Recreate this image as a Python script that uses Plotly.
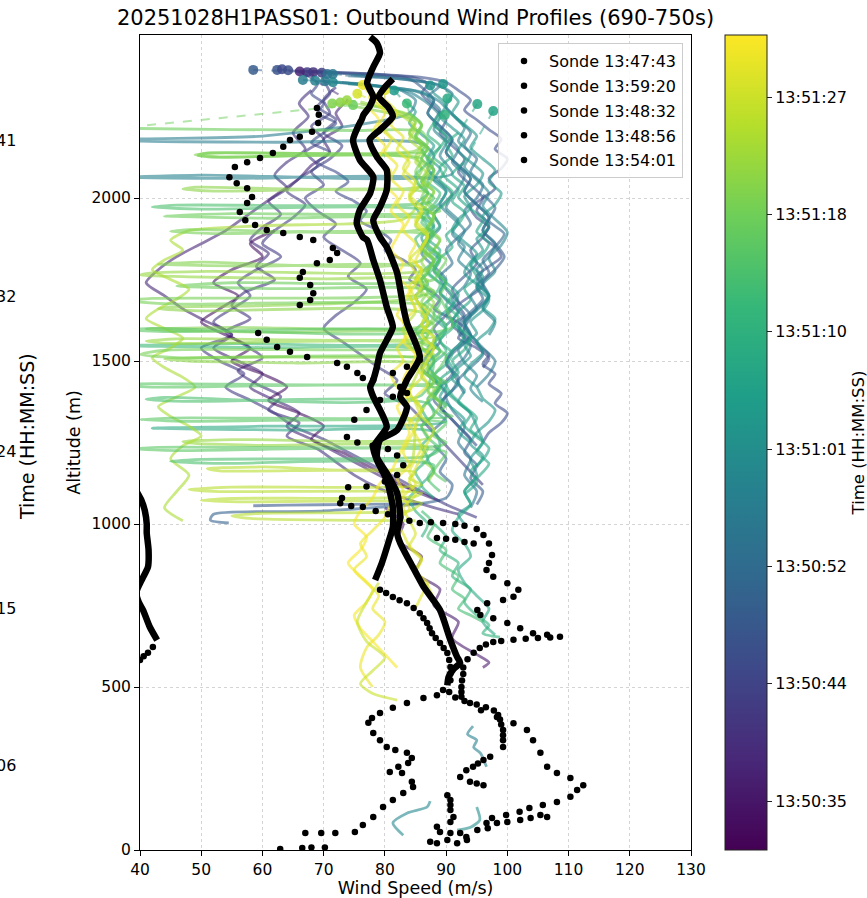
import plotly.graph_objects as go
from plotly.colors import sequential, hex_to_rgb

# ---------------------------------------------------------------------------
# Colour scale: seconds after 13:50:00
# ---------------------------------------------------------------------------
T_MIN, T_MAX = 31.5, 91.7
CBAR_TICK_VALUES = [35.1, 43.77, 52.43, 61.1, 69.77, 78.43, 87.1]
CBAR_TICK_LABELS = ["13:50:35", "13:50:44", "13:50:52", "13:51:01",
                    "13:51:10", "13:51:18", "13:51:27"]

X_TICKS = [40, 50, 60, 70, 80, 90, 100, 110, 120, 130]
Y_TICKS = [0, 500, 1000, 1500, 2000]

# neighbouring colourbar labels (only their tails fall inside the page)
NEIGHBOUR_TICK_TAILS = ["41", "32", "24", "15", "06"]

# ---------------------------------------------------------------------------
# Flight-level wind profiles (time, speed m/s, altitude m, launch marker)
# ---------------------------------------------------------------------------
PROFILE_TIMES = [40, 42, 38, 43, 36, 34,
                 49, 47, 45, 46, 51, 50, 48,
                 53, 55, 57, 58, 56, 59, 62, 63, 64, 60, 58, 61,
                 66, 67, 68, 70, 72, 70, 73,
                 78, 80, 81, 82, 84, 76, 74, 85, 79,
                 90, 89, 91, 88, 87]

START_SPEEDS = [68.3, 67.3, 66.1, 69.7, None, None,
                58.5, 62.4, 63.2, 64.2, None, None, None,
                70.6, 71.5, 66.6, 68.6, 70.2, 71.5, 87.4, 89.5, 81.5, None, None, None,
                97.7, 95.1, 90.2, 89.8, 83.6, None, None,
                74.8, 71.4, 72.7, 73.8, None, None, None, None, None,
                76.4, 80.0, 78.1, 75.5, None]
START_ALTS = [2386, 2386, 2388, 2384, None, None,
              2393, 2393, 2395, 2392, None, None, None,
              2380, 2380, 2362, 2360, 2358, 2355, 2345, 2350, 2330, None, None, None,
              2267, 2288, 2305, 2255, 2290, None, None,
              2285, 2290, 2293, 2300, None, None, None, None, None,
              2347, 2331, 2310, 2320, None]

PROFILE_SPEEDS = [
    [68, 66, 67.5, 65, 67, 64, 62, 64, 61, 63, 60, 58, 61, 59, 62, 57, 55, 58, 54, 57,
     60, 56, 59, 63, 61, 66, 64, 69, 72, 75, 79, 83, 88, 92],
    [72, 70, 71, 68, 70, 67, 69, 66, 64, 67, 65, 62, 60, 63, 59, 56, 58, 55, 52, 55,
     50, 53, 57, 54, 58, 62, 65, 70, 74, 78, 82, 86, 90, 95],
    [74, 72, 73, 70, 71, 68, 66, 63, 60, 57, 54, 50, 46, 43, 41, 44, 47, 51, 55, 52,
     56, 60, 58, 62, 66, 64, 68, 72, 76, 80, 85, 89],
    [70, 71, 69, 72, 70, 73, 71, 68, 70, 67, 69, 72, 70, 73, 76, 74, 77, 75, 72, 70,
     73, 76, 79, 82, 80, 84, 87, 90, 93, 96],
    [80, 83, 82, 86, 85, 89, 88, 92, 91, 95, 97, 96],
    [62, 58, 60, 55, 52, 56, 53, 50, 54, 58, 55, 60, 64, 61, 66, 70, 68, 73, 77, 81, 85],
    [65.5, 70, 75, 80, 84, 86, 88, 87, 89, 91, 90, 92, 94, 93, 95, 97, 96, 98, 99.5, 98,
     96, 97, 95, 93, 94, 92, 90, 91, 89, 88, 90, 92, 94, 93, 95, 94, 96, 95],
    [66, 71, 76, 81, 85, 87, 86, 88, 90, 89, 91, 93, 92, 94, 96, 95, 97, 96, 94, 95,
     93, 91, 92, 90, 88, 89, 87, 86, 88, 90, 89, 91, 93, 95],
    [67, 69, 68, 70, 69, 72, 70, 68, 71, 69, 72, 74, 72, 75, 77, 76, 79, 81, 80, 83,
     85, 84, 87, 89, 88, 91, 93, 92, 95, 97, 96],
    [68, 74, 80, 86, 90, 92, 94, 93, 95, 97, 99, 98, 100, 99, 97, 98, 96, 94, 95, 97,
     96, 98, 99, 97, 95, 96, 94, 92, 93, 91, 93, 95, 97, 96, 98, 97, 99, 98, 100, 99,
     97, 96],
    [96, 98, 97, 99.5, 98, 96, 97, 95, 96, 94, 92, 93, 91, 90, 92, 91, 89, 90, 88],
    [88, 90, 89, 91, 90, 70, 52, 51.5, 54.5],
    [86, 75, 64, 58.5],
    [74, 79, 84, 88, 91, 90, 92, 94, 93, 95, 94, 96, 95, 93, 94, 92, 90, 91, 89, 90,
     92, 94, 93, 95, 96, 94, 92, 93],
    [75, 80, 85, 89, 87, 89, 88, 90, 92, 91, 93, 92, 90, 88, 89, 87, 86, 88, 90, 89,
     91, 93, 92, 94, 93, 91, 92, 90, 91, 93, 92, 94, 93, 95, 94],
    [70, 74, 78, 82, 85, 84, 60, 40, 38, 62, 86, 88, 87, 89, 91, 90, 92, 91, 93, 92,
     94, 93, 91, 92, 90],
    [72, 76, 80, 84, 87, 89, 88, 90, 89, 91, 50, 37, 55, 88, 90, 89, 91, 93, 92, 94,
     96, 95, 97, 96, 98, 97],
    [73, 77, 81, 85, 88, 87, 89, 91, 90, 92, 94, 93, 95, 97, 96, 98, 97, 95, 96, 94,
     95, 93, 94, 96, 98, 97, 95],
    [74, 78, 82, 86, 89, 91, 93, 92, 94, 93, 95, 97, 96, 98, 100, 99, 97, 98, 96, 97,
     95, 93, 94, 92, 93, 95, 94, 96],
    [88, 90, 89, 91, 93, 92, 94, 96, 95, 93, 94, 92, 91, 93, 95, 94, 96, 95, 97, 96,
     94, 95, 93, 94, 92, 91, 93, 92, 94, 95, 96, 94, 95, 93, 94, 92, 93],
    [90, 92, 91, 93, 95, 94, 96, 98, 97, 99, 98, 96, 97, 95, 96, 94, 93, 95, 97, 96,
     98, 97, 95, 96, 94, 93, 95, 96, 98, 97, 95, 94, 96, 95],
    [83, 85, 84, 86, 88, 87, 89, 88, 90, 89, 87, 88, 86, 87, 89, 88, 90, 92, 91, 89,
     90, 88, 89, 87, 88, 90, 89, 91, 93, 92, 94],
    [83, 81.3, 83.6, 86.9, 87.4],
    [94.4, 93.5, 95, 94.5, 95.6, 96.6],
    [91.8, 94, 95.5, 95],
    [92.8, 91, 93, 92, 94, 96, 95, 97, 96, 94, 95, 93, 94, 92, 91, 93, 92, 90, 91, 89,
     90, 92, 94, 93, 95, 97, 96, 94, 95, 93],
    [92, 90, 91, 89, 90, 92, 91, 93, 92, 90, 91, 89, 88, 90, 89, 91, 90, 92, 94, 93,
     91, 92, 90, 91, 93, 95, 94, 96, 95, 97, 95, 93, 94, 92, 91, 93, 94, 92, 93, 95,
     97, 96, 98],
    [89, 88, 90, 89, 87, 88, 86, 87, 85, 86, 88, 87, 89, 88, 86, 87, 85, 86, 88, 90,
     89, 91, 90, 88, 89, 87, 88, 90, 60, 42, 65, 88, 89, 87, 88, 86, 88],
    [88, 87, 89, 88, 90, 89, 91, 90, 88, 89, 87, 86, 88, 87, 89, 91, 90, 92, 91, 89,
     90, 88, 87, 89, 88, 86, 87, 88, 86, 87, 85, 86, 84, 85, 87, 86],
    [84, 86, 85, 87, 86, 88, 87, 89, 88, 86, 87, 85, 86, 88, 87, 89, 88, 86, 87, 85,
     86, 55, 38, 60, 86, 88, 87, 89, 88, 90],
    [88, 90, 89, 92, 91, 94, 93, 95, 97, 96, 98.8],
    [86, 88, 87, 90, 89, 92, 91, 93, 92, 94, 96],
    [36, 55, 75, 86, 87, 86, 88, 87, 86, 88, 87, 89, 55, 44, 60, 88, 87, 89, 88, 90,
     89, 88, 55, 46, 62, 88, 87, 89, 88, 86, 87, 89, 88],
    [74, 78, 82, 85, 84, 86, 85, 52, 49, 53, 85, 86, 85, 87, 86, 88, 87, 86, 50, 43,
     58, 86, 85, 87, 86, 88, 87, 55, 41, 46, 63, 87, 86, 88, 87, 89, 88],
    [76, 80, 84, 86, 85, 87, 86, 88, 87, 49, 47, 52, 87, 86, 88, 87, 89, 88, 86, 87,
     85, 86, 60, 45, 43, 50, 86, 87, 85, 86, 88, 55, 44, 48, 65, 87, 86, 88, 87, 86],
    [76, 79, 83, 85, 84, 86, 85, 87, 86, 88, 87, 86, 85, 87, 86, 88, 87, 52, 42, 40,
     48, 70, 87, 86, 88, 87, 86, 88, 46, 41, 45, 88, 87, 86, 88, 87, 89, 88, 86, 87,
     56, 47, 49, 60, 87, 86, 88, 87],
    [80, 83, 85, 84, 86, 85, 87, 86, 84, 85, 83, 60, 48, 45, 47, 44, 42, 45, 48, 46,
     43, 41, 44, 47, 45, 42, 44, 47, 49, 46, 43, 45, 48, 50, 47, 45, 48, 46, 44, 47],
    [88, 87, 89, 88, 90, 89, 91, 42, 38, 44, 89, 88, 90, 89, 88, 90, 40, 36, 42, 89,
     88, 90, 89, 91, 45, 40, 47, 90, 89, 88, 90, 89, 43, 39, 46, 90, 89, 88, 90],
    [86, 87, 85, 86, 88, 87, 46, 42, 50, 87, 86, 88, 87, 89, 88, 86, 87, 89, 88, 90,
     89, 87, 88, 86, 44, 41, 47, 87, 88, 86, 87, 89, 88, 86, 50, 45, 52, 88, 87, 89],
    [84, 85, 83, 84, 86, 85, 84, 86, 85, 84, 60, 51, 53, 85, 84, 86, 55, 48, 52, 86,
     85, 54, 50, 56, 86, 85, 84, 60, 55, 58, 85],
    [84, 86, 85, 87, 51, 49.5, 52, 86, 85, 87, 86, 88, 87, 48, 45, 52, 87, 86, 88, 87,
     86, 88, 42, 38, 45, 87, 86, 88, 87, 86, 88, 44, 40, 46, 87, 86, 88, 87, 89],
    [78, 80, 79, 81, 80, 82, 81, 83, 82, 84, 83, 85, 84, 86, 85, 84, 85, 83, 84, 82,
     83, 81, 82, 84, 83, 85, 84, 83, 84, 82, 83, 81, 80, 78, 76, 77, 75, 77, 79, 78,
     80, 79, 77, 76, 78],
    [80, 82, 81, 83, 82, 84, 83, 85, 84, 86, 85, 87, 86, 85, 86, 84, 85, 86, 87, 86,
     88, 87, 86, 87, 85, 86, 84, 85, 86, 85, 84, 85, 83, 84, 82, 83, 84, 86, 85, 87,
     86, 85],
    [77, 79, 78, 80, 79, 81, 80, 82, 81, 83, 82, 81, 83, 82, 84, 83, 82, 84, 83, 85,
     84, 83, 84, 82, 83, 84, 83, 82, 81, 79, 78, 76, 75, 77, 76, 74, 76, 78, 77, 75,
     76, 78, 80, 82],
    [79, 81, 80, 82, 84, 83, 85, 84, 86, 85, 87, 86, 84, 85, 86, 85, 87, 86, 88, 87,
     85, 86, 84, 85, 86, 88, 87, 86, 85, 84, 85, 83, 84, 85, 84, 86, 85, 87, 88],
    [79, 77, 75.5, 77, 80, 78, 76, 78, 82],
]

PROFILE_ALTS = [
    [2330, 2290, 2250, 2200, 2150, 2110, 2070, 2030, 1990, 1950, 1910, 1870, 1830, 1790,
     1750, 1710, 1670, 1630, 1590, 1550, 1510, 1470, 1430, 1390, 1350, 1310, 1270, 1230,
     1190, 1150, 1110, 1080, 1050, 1030],
    [2340, 2300, 2260, 2220, 2180, 2140, 2100, 2060, 2020, 1980, 1940, 1900, 1860, 1820,
     1780, 1740, 1700, 1660, 1620, 1580, 1540, 1500, 1460, 1420, 1380, 1340, 1300, 1260,
     1220, 1180, 1140, 1100, 1060, 1020],
    [2300, 2260, 2220, 2180, 2140, 2100, 2060, 2020, 1980, 1940, 1900, 1860, 1820, 1780,
     1740, 1700, 1660, 1620, 1580, 1540, 1500, 1460, 1420, 1380, 1340, 1300, 1260, 1220,
     1180, 1140, 1100, 1070],
    [2360, 2320, 2280, 2240, 2200, 2160, 2120, 2080, 2040, 2000, 1960, 1920, 1880, 1840,
     1800, 1760, 1720, 1680, 1640, 1600, 1560, 1520, 1480, 1440, 1400, 1360, 1300, 1240,
     1180, 1120],
    [1050, 1000, 950, 900, 850, 800, 750, 700, 650, 600, 575, 560],
    [1900, 1860, 1820, 1780, 1740, 1700, 1660, 1620, 1580, 1540, 1500, 1460, 1420, 1380,
     1340, 1300, 1260, 1220, 1180, 1140, 1100],
    [2388, 2385, 2380, 2375, 2365, 2340, 2300, 2260, 2220, 2180, 2140, 2100, 2060, 2020,
     1980, 1940, 1900, 1860, 1820, 1780, 1740, 1700, 1660, 1620, 1580, 1540, 1500, 1460,
     1420, 1380, 1340, 1300, 1260, 1220, 1180, 1140, 1100, 1060],
    [2390, 2386, 2382, 2376, 2368, 2350, 2320, 2280, 2240, 2200, 2160, 2120, 2080, 2040,
     2000, 1960, 1920, 1880, 1840, 1800, 1760, 1720, 1680, 1640, 1600, 1560, 1520, 1480,
     1440, 1400, 1360, 1320, 1280, 1240],
    [2380, 2350, 2320, 2290, 2260, 2230, 2200, 2170, 2140, 2110, 2080, 2050, 2020, 1990,
     1960, 1930, 1900, 1870, 1840, 1810, 1780, 1750, 1720, 1690, 1660, 1630, 1600, 1570,
     1540, 1510, 1480],
    [2388, 2384, 2378, 2370, 2355, 2330, 2300, 2270, 2240, 2210, 2180, 2150, 2120, 2090,
     2060, 2030, 2000, 1970, 1940, 1910, 1880, 1850, 1820, 1790, 1760, 1730, 1700, 1670,
     1640, 1610, 1580, 1550, 1520, 1490, 1460, 1430, 1400, 1370, 1340, 1310, 1280, 1250],
    [2010, 1970, 1930, 1890, 1850, 1810, 1770, 1730, 1690, 1650, 1610, 1570, 1530, 1490,
     1450, 1410, 1370, 1330, 1290],
    [1240, 1200, 1160, 1120, 1080, 1040, 1030, 1012, 1003],
    [1062, 1060, 1058, 1056],
    [2375, 2370, 2362, 2350, 2320, 2280, 2240, 2200, 2160, 2120, 2080, 2040, 2000, 1960,
     1920, 1880, 1840, 1800, 1760, 1720, 1680, 1640, 1600, 1560, 1520, 1480, 1440, 1400],
    [2376, 2370, 2360, 2345, 2310, 2270, 2230, 2190, 2150, 2110, 2070, 2030, 1990, 1950,
     1910, 1870, 1830, 1790, 1750, 1710, 1670, 1630, 1590, 1550, 1510, 1470, 1430, 1390,
     1350, 1300, 1250, 1200, 1150, 1100, 1050],
    [2358, 2352, 2345, 2335, 2300, 2260, 2190, 2181, 2176, 2171, 2167, 2130, 2090, 2050,
     2010, 1970, 1930, 1890, 1850, 1810, 1770, 1730, 1690, 1650, 1610],
    [2356, 2350, 2340, 2325, 2290, 2250, 2210, 2170, 2130, 2075, 2070, 2064, 2060, 2056,
     2020, 1980, 1940, 1900, 1860, 1820, 1780, 1740, 1700, 1660, 1620, 1580],
    [2354, 2348, 2340, 2328, 2300, 2260, 2220, 2180, 2140, 2100, 2060, 2020, 1980, 1940,
     1900, 1860, 1820, 1780, 1740, 1700, 1660, 1620, 1580, 1540, 1500, 1460, 1420],
    [2350, 2344, 2336, 2325, 2295, 2255, 2215, 2175, 2135, 2095, 2055, 2015, 1975, 1935,
     1895, 1855, 1815, 1775, 1735, 1695, 1655, 1615, 1575, 1535, 1495, 1455, 1415, 1375],
    [2320, 2285, 2250, 2215, 2180, 2145, 2110, 2075, 2040, 2005, 1970, 1935, 1900, 1865,
     1830, 1795, 1760, 1725, 1690, 1655, 1620, 1585, 1550, 1515, 1480, 1445, 1410, 1375,
     1340, 1300, 1250, 1200, 1150, 1100, 1060, 1030, 1000],
    [2330, 2295, 2260, 2225, 2190, 2155, 2120, 2085, 2050, 2015, 1980, 1945, 1910, 1875,
     1840, 1805, 1770, 1735, 1700, 1665, 1630, 1595, 1560, 1525, 1490, 1455, 1420, 1385,
     1350, 1315, 1280, 1245, 1210, 1175],
    [2300, 2265, 2230, 2195, 2160, 2125, 2090, 2055, 2020, 1985, 1950, 1915, 1880, 1845,
     1810, 1775, 1740, 1705, 1670, 1635, 1600, 1565, 1530, 1495, 1460, 1425, 1390, 1355,
     1320, 1285, 1250],
    [45, 83, 113, 132, 150],
    [380, 355, 337, 315, 297, 255],
    [61, 70, 92, 132],
    [2107, 2072, 2037, 2002, 1967, 1932, 1897, 1862, 1827, 1792, 1757, 1722, 1687, 1652,
     1617, 1582, 1547, 1512, 1477, 1442, 1407, 1372, 1337, 1302, 1267, 1232, 1197, 1162,
     1127, 1092],
    [2200, 2165, 2130, 2095, 2060, 2025, 1990, 1955, 1920, 1885, 1850, 1815, 1780, 1745,
     1710, 1675, 1640, 1605, 1570, 1535, 1500, 1465, 1430, 1395, 1360, 1325, 1290, 1255,
     1220, 1185, 1140, 1100, 1060, 1020, 980, 940, 900, 860, 820, 780, 740, 700, 660],
    [2260, 2225, 2190, 2155, 2120, 2085, 2050, 2015, 1980, 1945, 1910, 1875, 1840, 1805,
     1770, 1735, 1700, 1665, 1630, 1595, 1560, 1525, 1490, 1455, 1420, 1385, 1350, 1315,
     1300, 1294, 1288, 1282, 1240, 1200, 1160, 1120, 1080],
    [2230, 2195, 2160, 2125, 2090, 2055, 2020, 1985, 1950, 1915, 1880, 1845, 1810, 1775,
     1740, 1705, 1670, 1635, 1600, 1565, 1530, 1495, 1460, 1425, 1390, 1355, 1320, 1280,
     1240, 1200, 1160, 1120, 1080, 1040, 1000, 960],
    [2260, 2225, 2190, 2155, 2120, 2085, 2050, 2015, 1980, 1945, 1910, 1875, 1840, 1805,
     1770, 1735, 1700, 1665, 1630, 1595, 1560, 1553, 1547, 1541, 1535, 1500, 1465, 1430,
     1395, 1360],
    [1000, 960, 920, 880, 840, 800, 760, 720, 690, 665, 653],
    [1040, 1000, 960, 920, 880, 840, 800, 770, 740, 720, 700],
    [2214, 2210, 2207, 2204, 2170, 2140, 2110, 2080, 2050, 2020, 1990, 1960, 1952, 1945,
     1938, 1932, 1900, 1870, 1840, 1810, 1780, 1750, 1740, 1730, 1722, 1715, 1680, 1650,
     1620, 1590, 1560, 1530, 1500],
    [2285, 2270, 2255, 2235, 2200, 2165, 2145, 2138, 2132, 2126, 2120, 2085, 2050, 2015,
     1980, 1945, 1910, 1810, 1803, 1797, 1791, 1785, 1750, 1715, 1680, 1645, 1610, 1603,
     1598, 1593, 1588, 1582, 1545, 1510, 1475, 1440, 1405],
    [2288, 2275, 2255, 2225, 2190, 2155, 2120, 2085, 2040, 2033, 2027, 2021, 2015, 1980,
     1945, 1910, 1875, 1840, 1805, 1770, 1735, 1700, 1670, 1665, 1660, 1654, 1648, 1610,
     1575, 1540, 1520, 1512, 1506, 1500, 1494, 1488, 1450, 1415, 1380, 1345],
    [2295, 2280, 2260, 2230, 2195, 2160, 2125, 2090, 2055, 2020, 1985, 1950, 1915, 1880,
     1845, 1810, 1780, 1775, 1770, 1764, 1758, 1752, 1748, 1715, 1680, 1645, 1610, 1575,
     1568, 1561, 1554, 1547, 1510, 1475, 1440, 1405, 1370, 1335, 1300, 1265, 1259, 1253,
     1247, 1241, 1235, 1200, 1165, 1130],
    [2280, 2250, 2215, 2180, 2145, 2110, 2075, 2040, 2005, 1970, 1935, 1915, 1900, 1870,
     1840, 1810, 1780, 1750, 1720, 1690, 1660, 1630, 1600, 1570, 1540, 1510, 1480, 1450,
     1420, 1390, 1360, 1330, 1300, 1270, 1240, 1200, 1150, 1100, 1050, 1010],
    [1900, 1860, 1820, 1780, 1740, 1700, 1605, 1600, 1595, 1590, 1585, 1550, 1515, 1480,
     1455, 1435, 1430, 1425, 1420, 1415, 1390, 1365, 1345, 1330, 1325, 1320, 1315, 1310,
     1290, 1270, 1250, 1240, 1235, 1230, 1225, 1220, 1190, 1160, 1130],
    [2150, 2110, 2070, 2030, 2000, 1985, 1978, 1972, 1966, 1960, 1925, 1890, 1855, 1820,
     1785, 1750, 1715, 1680, 1645, 1610, 1575, 1540, 1505, 1395, 1388, 1382, 1376, 1370,
     1335, 1300, 1265, 1230, 1215, 1205, 1198, 1192, 1186, 1180, 1140, 1100],
    [1700, 1650, 1600, 1550, 1500, 1450, 1400, 1350, 1300, 1180, 1175, 1170, 1163, 1158,
     1140, 1120, 1113, 1106, 1100, 1095, 1085, 1078, 1072, 1068, 1064, 1050, 1040, 1033,
     1025, 1017, 1010],
    [2260, 2220, 2180, 2145, 2138, 2130, 2125, 2120, 2080, 2040, 2000, 1960, 1910, 1903,
     1897, 1891, 1885, 1850, 1815, 1780, 1745, 1710, 1692, 1685, 1675, 1668, 1640, 1610,
     1580, 1555, 1540, 1533, 1520, 1510, 1503, 1470, 1440, 1410, 1380],
    [2300, 2260, 2220, 2180, 2140, 2100, 2060, 2020, 1980, 1940, 1900, 1860, 1820, 1780,
     1740, 1700, 1660, 1620, 1580, 1540, 1500, 1460, 1420, 1380, 1340, 1300, 1260, 1220,
     1180, 1140, 1100, 1060, 1020, 980, 940, 900, 860, 820, 780, 740, 700, 660, 620, 560,
     500],
    [2300, 2262, 2224, 2186, 2148, 2110, 2072, 2034, 1996, 1958, 1920, 1882, 1844, 1806,
     1768, 1730, 1692, 1654, 1616, 1578, 1540, 1502, 1464, 1426, 1388, 1350, 1312, 1274,
     1236, 1198, 1160, 1122, 1084, 1046, 1008, 970, 932, 894, 856, 818, 780, 742],
    [2280, 2240, 2200, 2160, 2120, 2080, 2040, 2000, 1960, 1920, 1880, 1840, 1800, 1760,
     1720, 1680, 1640, 1600, 1560, 1520, 1480, 1440, 1400, 1360, 1320, 1280, 1240, 1200,
     1160, 1120, 1080, 1040, 1000, 960, 920, 880, 840, 800, 760, 720, 680, 640, 600, 560],
    [2290, 2250, 2210, 2170, 2130, 2090, 2050, 2010, 1970, 1930, 1890, 1850, 1810, 1770,
     1730, 1690, 1650, 1610, 1570, 1530, 1490, 1450, 1410, 1370, 1330, 1290, 1250, 1210,
     1170, 1130, 1090, 1050, 1010, 970, 930, 890, 850, 810, 770],
    [820, 760, 700, 640, 590, 550, 510, 480, 460],
]

# ---------------------------------------------------------------------------
# Dropsondes: densely sampled stretches (drawn as a thick trail) and
# sparsely sampled points (drawn as dots)
# ---------------------------------------------------------------------------
SONDE_LABELS = ["Sonde 13:47:43", "Sonde 13:59:20", "Sonde 13:48:32",
                "Sonde 13:48:56", "Sonde 13:54:01"]

SONDE_TRAIL_SPEEDS = [
    [77.6, 78.7, 79.2, 78.1, 77.1, 78.1, 77.5, 76.5, 76.2, 75.9, 74.8, 75.9, 78.1, 77.6,
     75.9, 75.4, 76.4, 77.1, 78.1, 79.2, 80.3, 81.3, 80.3, 79.2, 78.7, 78.1, 77.6, 78.1,
     79.2, 80.3, 78.1, 78.7, 80.3, 81.3, 81.3, 80.6, 79.5, 78.4],
    [38.5, 39.6, 40.2, 40.8, 41.1, 41.1, 41.4, 41.3, 40.6, 40.0, 39.4, 39.8, 40.5, 41.6,
     42.8],
    [81.3, 80.0, 79.0, 80.5, 81.3, 79.2, 77.5, 78.7, 80.3, 80.3, 79.2, 78.1, 79.2, 80.3,
     82.0, 83.0, 83.6, 85.7, 83.6, 82.5, 83.6, 82.0, 79.2, 78.7, 80.3, 82.0, 82.5, 82.0,
     82.5, 84.5, 86.3, 89.0, 90.7, 91.8, 92.3, 91.2, 90.4, 90.2],
    [],
    [],
]
SONDE_TRAIL_ALTS = [
    [2494, 2475, 2445, 2402, 2353, 2310, 2280, 2255, 2240, 2230, 2178, 2117, 2065, 2015,
     1963, 1923, 1880, 1871, 1810, 1748, 1666, 1604, 1564, 1524, 1482, 1442, 1420, 1390,
     1350, 1298, 1236, 1196, 1135, 1052, 991, 945, 880, 828],
    [1130, 1095, 1074, 1040, 1000, 973, 920, 868, 840, 818, 790, 760, 736, 684, 644],
    [2365, 2340, 2310, 2280, 2250, 2209, 2178, 2126, 2086, 2025, 1972, 1932, 1880, 1850,
     1770, 1666, 1617, 1512, 1442, 1390, 1359, 1288, 1258, 1206, 1156, 1095, 1021, 972,
     942, 870, 808, 736, 644, 592, 574, 555, 530, 505],
    [],
    [],
]

SONDE_DOT_SPEEDS = [
    [79.2, 80.2, 81.3, 82.4, 83.6, 84.7, 85.7, 86.3, 86.9, 87.3, 87.7, 88.3, 89.0, 89.6,
     90.2, 90.5, 90.7, 90.7, 90.7, 89.5, 88.5, 86.3, 83.6, 81.3, 79.2, 77.9, 77.3, 78.1,
     79.2, 80.3, 81.7, 83.6, 84.4, 83.8, 82.2, 80.8, 82.8, 84.4, 84.6, 83.0, 81.3, 79.7,
     78.1, 76.4, 75.1, 71.9, 69.6, 67.0, 70.2, 68.0, 66.5, 62.9],
    [42.1, 41.3, 40.6, 40.0, 39.4],
    [90.5, 91.5, 93.0, 95.0, 96.5, 97.8, 98.5, 98.8, 99.0, 99.3, 99.3, 99.3, 99.3],
    [68.9, 69.2, 69.1, 68.1, 66.1, 64.5, 63.4, 61.7, 59.6, 57.5, 55.5, 54.6, 55.8, 57.5,
     58.3, 57.5, 56.3, 57.2, 58.8, 60.7, 63.4, 66.1, 68.3, 71.5, 72.2, 71.0, 68.9, 66.6,
     66.1, 67.8, 68.3, 67.8, 66.1, 59.3, 60.7, 62.4, 64.5, 67.3, 72.2, 73.8, 75.5, 76.4,
     78.1, 81.3, 83.6, 85.7, 82.5, 83.6, 81.3, 79.2, 77.0, 75.0, 73.8, 75.5, 78.0, 80.5,
     82.0, 83.0, 82.0, 80.0, 77.0, 74.0, 73.0, 72.7, 74.5, 76.4, 78.5, 80.5, 82.5, 84.0,
     85.7, 87.5, 89.5, 91.5, 93.0, 95.0, 96.1, 97.0, 97.5, 97.0, 96.6, 97.7, 100.0, 101.8,
     101.0, 99.3, 96.7, 95.1, 95.6, 97.7, 100.0, 102.1, 104.2, 106.5, 108.6, 107.0, 105.0,
     103.0, 101.0, 99.0, 97.7, 96.5, 95.5, 94.5, 93.5, 92.8, 92.8, 92.6, 92.5, 92.5, 92.5,
     93.9, 95.7, 98.3, 101.0, 103.2, 104.2, 105.4, 106.5, 108.1, 110.3, 112.4, 111.4,
     110.3, 108.1, 105.8, 103.6, 102.0, 99.8, 97.5, 96.6],
    [97.2, 96.1, 95.2, 94.4, 93.3, 92.3, 93.9, 95.0, 96.1, 90.2, 90.7, 90.7, 90.7, 91.2,
     90.7, 88.5, 89.0, 90.7, 92.3, 93.3, 95.1, 96.8, 98.3, 100.0, 102.1, 103.8, 105.4,
     106.5, 87.4, 88.5, 90.2, 91.8, 93.4, 88.5, 90.0, 91.5, 93.0, 94.5],
]
SONDE_DOT_ALTS = [
    [798, 788, 776, 766, 757, 742, 726, 711, 696, 680, 665, 650, 635, 620, 604, 583, 561,
     541, 521, 491, 475, 466, 451, 436, 420, 405, 390, 359, 337, 316, 307, 298, 282, 267,
     255, 239, 236, 209, 193, 175, 153, 132, 101, 77, 55, 52, 52, 52, 8, 8, 6, 3],
    [623, 605, 594, 583, 572],
    [485, 468, 457, 446, 438, 428, 414, 400, 385, 368, 352, 337, 316],
    [2276, 2255, 2230, 2203, 2188, 2178, 2157, 2138, 2123, 2110, 2095, 2064, 2045, 2030,
     2003, 1985, 1957, 1932, 1917, 1902, 1893, 1880, 1871, 1847, 1831, 1810, 1800, 1773,
     1755, 1733, 1708, 1687, 1672, 1586, 1565, 1543, 1528, 1512, 1494, 1482, 1463, 1448,
     1442, 1463, 1482, 1503, 1420, 1402, 1390, 1380, 1350, 1320, 1267, 1250, 1240, 1230,
     1210, 1180, 1150, 1130, 1115, 1113, 1080, 1064, 1055, 1052, 1040, 1030, 1020, 1010,
     1003, 1005, 1003, 1000, 995, 985, 966, 940, 905, 880, 859, 838, 818, 798,
     777, 767, 757, 736, 721, 711, 696, 680, 665, 660, 654, 652, 650,
     648, 645, 641, 638, 630, 620, 605, 585, 560, 540, 520, 500, 485, 470,
     451, 429, 408, 389, 368, 337, 298, 255, 236, 221, 199, 184,
     163, 147, 138, 129, 117, 107, 98, 83],
    [286, 276, 265, 255, 245, 224, 209, 204, 199, 168, 153, 138, 123, 101, 86, 71, 55, 52,
     52, 40, 61, 67, 83, 86, 92, 98, 107, 101, 25, 21, 31, 21, 31, 957, 955, 952, 945, 940],
]

# ---------------------------------------------------------------------------
VIRIDIS = [hex_to_rgb(c) for c in sequential.Viridis]


def time_rgb(t):
    f = min(max((t - T_MIN) / (T_MAX - T_MIN), 0.0), 1.0) * (len(VIRIDIS) - 1)
    i = min(int(f), len(VIRIDIS) - 2)
    w = f - i
    return tuple(VIRIDIS[i][k] * (1 - w) + VIRIDIS[i + 1][k] * w for k in range(3))


def rgba(rgb, a):
    return f"rgba({rgb[0]:.0f},{rgb[1]:.0f},{rgb[2]:.0f},{a})"


FONT = "DejaVu Sans"
fig = go.Figure()

# coloured profiles: dashed link from launch marker, then the solid trace
for t, sp, al, s0, a0 in zip(PROFILE_TIMES, PROFILE_SPEEDS, PROFILE_ALTS,
                             START_SPEEDS, START_ALTS):
    n = min(len(sp), len(al))
    c = time_rgb(t)
    if s0 is not None:
        fig.add_trace(go.Scatter(
            x=[s0, sp[0]], y=[a0, al[0]], mode="lines",
            line=dict(color=rgba(c, 0.5), width=2, dash="dash"),
            hoverinfo="skip", showlegend=False))
    fig.add_trace(go.Scatter(
        x=sp[:n], y=al[:n], mode="lines",
        line=dict(color=rgba(c, 0.6), width=2.8, shape="spline", smoothing=0.7),
        hoverinfo="skip", showlegend=False))

# launch markers
mk_x, mk_y, mk_c = [], [], []
for t, s0, a0 in zip(PROFILE_TIMES, START_SPEEDS, START_ALTS):
    if s0 is not None:
        mk_x.append(s0)
        mk_y.append(a0)
        mk_c.append(rgba(time_rgb(t), 0.85))
fig.add_trace(go.Scatter(
    x=mk_x, y=mk_y, mode="markers",
    marker=dict(size=10, color=mk_c, line=dict(width=0)),
    hoverinfo="skip", showlegend=False))

# dropsondes
for i, label in enumerate(SONDE_LABELS):
    ts, ta = SONDE_TRAIL_SPEEDS[i], SONDE_TRAIL_ALTS[i]
    if ts:
        fig.add_trace(go.Scatter(
            x=ts, y=ta, mode="lines",
            line=dict(color="black", width=6.5, shape="spline", smoothing=0.6),
            legendgroup=label, showlegend=False, hoverinfo="skip"))
    fig.add_trace(go.Scatter(
        x=SONDE_DOT_SPEEDS[i], y=SONDE_DOT_ALTS[i], mode="markers",
        marker=dict(size=6.5, color="black"),
        name=label, legendgroup=label, showlegend=True))

# colour bar for launch time
fig.add_trace(go.Scatter(
    x=[None], y=[None], mode="markers", showlegend=False, hoverinfo="skip",
    marker=dict(
        color=[T_MIN], cmin=T_MIN, cmax=T_MAX, colorscale="Viridis", showscale=True,
        colorbar=dict(
            thickness=42, thicknessmode="pixels", len=1, lenmode="fraction",
            x=(725 - 140) / 551, xanchor="left", xpad=0, y=0.5, yanchor="middle", ypad=0,
            outlinewidth=1, outlinecolor="#222",
            tickvals=CBAR_TICK_VALUES, ticktext=CBAR_TICK_LABELS,
            ticks="outside", ticklen=5, tickwidth=1, tickcolor="#222",
            tickfont=dict(family=FONT, size=16, color="black"),
            title=dict(text="Time (HH:MM:SS)", side="right",
                       font=dict(family=FONT, size=16.5, color="black")),
        ),
    )))

# tails of the adjacent panel's colour bar labels and its title
annotations = []
for txt, py in zip(NEIGHBOUR_TICK_TAILS, [140, 296, 452, 608, 765]):
    annotations.append(dict(
        text=txt, xref="paper", yref="paper", x=(17.5 - 140) / 551, y=(850 - py) / 815,
        xanchor="right", yanchor="middle", showarrow=False,
        font=dict(family=FONT, size=16, color="black")))
annotations.append(dict(
    text="Time (HH:MM:SS)", xref="paper", yref="paper", x=(27 - 140) / 551,
    y=(850 - 437) / 815, xanchor="center", yanchor="middle", textangle=-90,
    showarrow=False, font=dict(family=FONT, size=19, color="black")))

axis_common = dict(
    showline=True, mirror=True, linecolor="black", linewidth=1,
    ticks="outside", ticklen=5, tickwidth=1, tickcolor="black",
    showgrid=True, gridcolor="#d4d4d4", griddash="dot", gridwidth=1,
    zeroline=False, tickfont=dict(family=FONT, size=15.5, color="black"),
)

fig.update_layout(
    width=867, height=898, autosize=False,
    margin=dict(l=140, r=176, t=35, b=48, autoexpand=False),
    plot_bgcolor="white", paper_bgcolor="white",
    font=dict(family=FONT, color="black"),
    title=dict(text="20251028H1PASS01: Outbound Wind Profiles (690-750s)",
               x=0.5, xref="paper", xanchor="center",
               y=1 - 18 / 898, yref="container", yanchor="middle",
               font=dict(family=FONT, size=21, color="black")),
    xaxis=dict(range=[40, 130], tickvals=X_TICKS,
               title=dict(text="Wind Speed (m/s)", standoff=2,
                          font=dict(family=FONT, size=17.5)),
               **axis_common),
    yaxis=dict(range=[0, 2500], tickvals=Y_TICKS,
               title=dict(text="Altitude (m)", standoff=6,
                          font=dict(family=FONT, size=17.5)),
               **axis_common),
    legend=dict(x=(683 - 140) / 551, y=(850 - 43) / 815, xanchor="right", yanchor="top",
                bgcolor="rgba(255,255,255,0.85)", bordercolor="#cccccc", borderwidth=1,
                font=dict(family=FONT, size=16, color="black"),
                traceorder="grouped", tracegroupgap=1, itemwidth=40),
    annotations=annotations,
    showlegend=True,
)

fig.write_html("out.html")
